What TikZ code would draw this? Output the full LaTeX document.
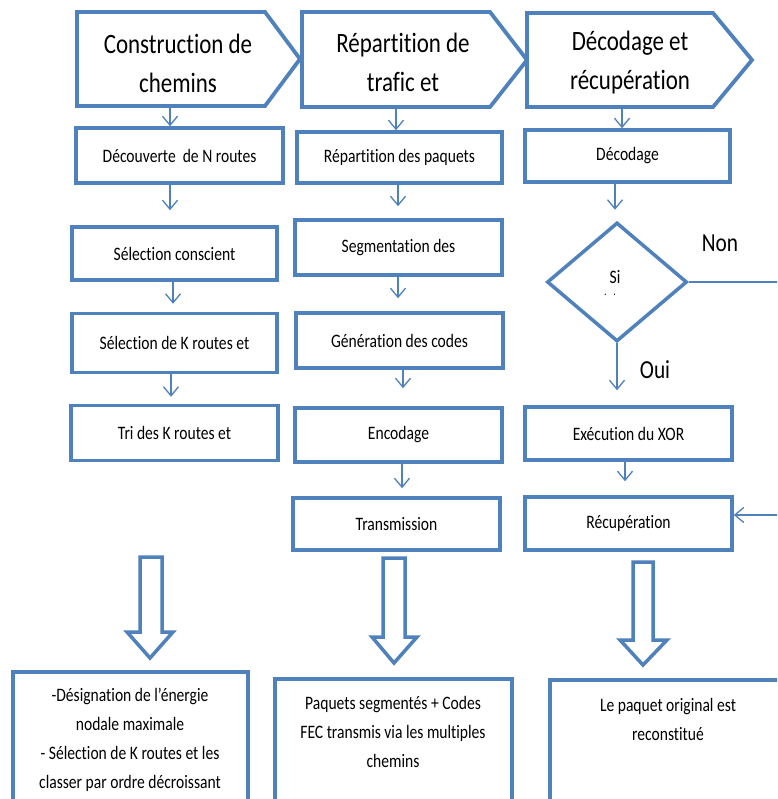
\documentclass[tikz,border=0pt]{standalone}
\usepackage{fontspec}
\setmainfont{Carlito}[FakeStretch=0.82,Ligatures=NoCommon]
\usetikzlibrary{arrows.meta,shapes.geometric}
\definecolor{ob}{RGB}{79,129,189}
\begin{document}
\begin{tikzpicture}[x=1pt,y=-1pt,
 box/.style={draw=ob, line width=3.5pt, fill=white, inner sep=0pt, font=\fontsize{19}{23}\selectfont, align=center},
 hdr/.style={draw=ob, line width=3.8pt, line join=miter, fill=white},
 htext/.style={font=\fontsize{28}{39}\selectfont, align=center},
 arr/.style={draw=ob, line width=1.3pt, -{Straight Barb[length=9pt,width=15pt]}},
 bigarr/.style={draw=ob, line width=3.5pt, fill=white, line join=miter},
 bbox/.style={draw=ob, line width=3.5pt, inner sep=0pt, anchor=north},
 btext/.style={font=\fontsize{19}{29}\selectfont, align=center},
 lbl/.style={font=\fontsize{26}{30}\selectfont}
]
\clip (0,0) rectangle (777,799);
\fill[white] (0,0) rectangle (777,799);

% headers
\draw[hdr] (77,12) -- (265,12) -- (300,59) -- (265,106) -- (77,106) -- cycle;
\node[htext] (H1) at (178,63) {Construction de\\chemins};
\draw[hdr] (302,12) -- (490,12) -- (527,60) -- (490,107) -- (302,107) -- cycle;
\node[htext] (H2) at (403,62) {Répartition de\\trafic et};
\draw[hdr] (527,13) -- (713,13) -- (752,60) -- (713,107) -- (527,107) -- cycle;
\node[htext] (H3) at (630,63) {Décodage et\\récupération};
\coordinate (H1s) at (170,106);
\coordinate (H2s) at (396,107);
\coordinate (H3s) at (622,107);

% left column
\node[box, minimum width=207pt, minimum height=55pt] (L1) at (179.5,155.5) {Découverte\ \ de N routes};
\node[box, minimum width=205pt, minimum height=53pt] (L2) at (174.5,253.5) {Sélection conscient};
\node[box, minimum width=205pt, minimum height=59pt] (L3) at (174.5,343) {Sélection de K routes et};
\node[box, minimum width=207pt, minimum height=55pt] (L4) at (174.5,433) {Tri des K routes et};

% middle column
\node[box, minimum width=205pt, minimum height=51pt] (M1) at (399.5,157.5) {Répartition des paquets};
\node[box, minimum width=207pt, minimum height=55pt] (M2) at (398.5,247.5) {Segmentation des};
\node[box, minimum width=207pt, minimum height=55pt] (M3) at (399.5,340.5) {Génération des codes};
\node[box, minimum width=207pt, minimum height=54pt] (M4) at (398.5,435) {Encodage};
\node[box, minimum width=207pt, minimum height=52pt] (M5) at (396.5,524) {Transmission};

% right column
\node[box, minimum width=205pt, minimum height=52pt] (R1) at (627.5,156) {Décodage};
\node[draw=ob, line width=3.5pt, diamond, minimum width=140pt, minimum height=119pt, inner sep=0pt] (D) at (617,282) {};
\node[font=\fontsize{19}{23}\selectfont] (si) at (615,277) {Si};
\node[font=\fontsize{12}{12}\selectfont] (dots) at (610,295) {.\ \ \ .};
\node[box, minimum width=207pt, minimum height=53pt] (R2) at (628.5,433.5) {Exécution du XOR};
\node[box, minimum width=207pt, minimum height=53pt] (R3) at (628.5,523.5) {Récupération};
\node[lbl] (non) at (720,243) {Non};
\node[lbl] (oui) at (655,370) {Oui};

% small arrows
\draw[arr] (H1s) -- (H1s |- L1.north);
\draw[arr, shorten >=15pt] ([xshift=-9.5pt]L1.south) -- ([xshift=-9.5pt]L1.south |- L2.north);
\draw[arr, shorten >=8pt] ([xshift=-1.5pt]L2.south) -- ([xshift=-1.5pt]L2.south |- L3.north);
\draw[arr, shorten >=7pt] ([xshift=-3.5pt]L3.south) -- ([xshift=-3.5pt]L3.south |- L4.north);

\draw[arr] (H2s) -- (H2s |- M1.north);
\draw[arr, shorten >=12pt] ([xshift=-1.5pt]M1.south) -- ([xshift=-1.5pt]M1.south |- M2.north);
\draw[arr, shorten >=13pt] ([xshift=-0.5pt]M2.south) -- ([xshift=-0.5pt]M2.south |- M3.north);
\draw[arr, shorten >=18pt] ([xshift=3.5pt]M3.south) -- ([xshift=3.5pt]M3.south |- M4.north);
\draw[arr, shorten >=8pt] ([xshift=3.5pt]M4.south) -- ([xshift=3.5pt]M4.south |- M5.north);

\draw[arr] (H3s) -- (H3s |- R1.north);
\draw[arr, shorten >=11pt] ([xshift=-12.5pt]R1.south) -- ([xshift=-12.5pt]R1.south |- D.north);
\draw[arr, shorten >=15pt] (D.south) -- (D.south |- R2.north);
\draw[arr, shorten >=14pt] ([xshift=-3.5pt]R2.south) -- ([xshift=-3.5pt]R2.south |- R3.north);
\draw[arr] (D.east) -- (790,282) -- (790,515) -- ([yshift=8.5pt]R3.east);

% big arrows
\draw[bigarr] (140,557) -- (162,557) -- (162,632) -- (173,632) -- (150,658) -- (127,632) -- (140,632) -- cycle;
\draw[bigarr] (383,558) -- (405,558) -- (405,637) -- (417,637) -- (394,663) -- (372,637) -- (383,637) -- cycle;
\draw[bigarr] (633,562) -- (653,562) -- (653,640) -- (667,640) -- (643,665) -- (620,640) -- (633,640) -- cycle;

% bottom boxes
\node[bbox, minimum width=235pt, minimum height=160pt] (B1) at (130.5,670) {};
\node[bbox, minimum width=237pt, minimum height=160pt] (B2) at (393.5,677) {};
\node[bbox, minimum width=240pt, minimum height=160pt] (B3) at (670,678) {};
\node[btext] (T1) at (130,740) {-Désignation de l’énergie\\nodale maximale\\- Sélection de K routes et les\\classer par ordre décroissant};
\node[btext] (T2) at (393,731.5) {Paquets segmentés + Codes\\FEC transmis via les multiples\\chemins};
\node[btext] (T3) at (668,719) {Le paquet original est\\reconstitué};
\end{tikzpicture}
\end{document}
